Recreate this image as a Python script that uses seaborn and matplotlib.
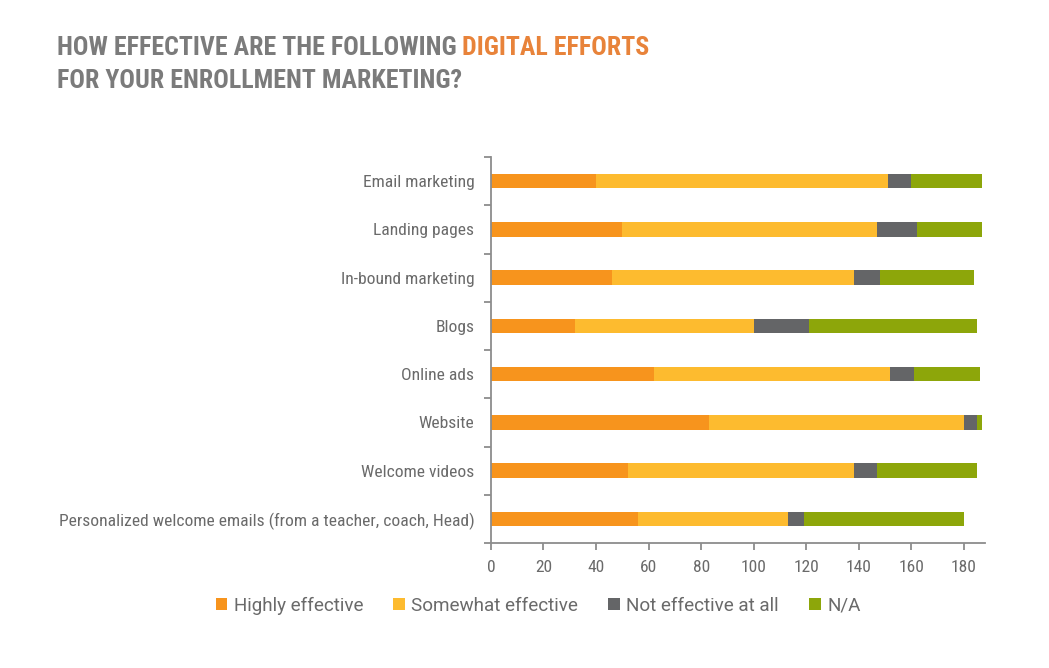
import matplotlib
matplotlib.use("Agg")
import matplotlib.pyplot as plt
import seaborn as sns
import numpy as np
import pandas as pd

categories = [
    "Email marketing",
    "Landing pages",
    "In-bound marketing",
    "Blogs",
    "Online ads",
    "Website",
    "Welcome videos",
    "Personalized welcome emails (from a teacher, coach, Head)",
]
series_names = ["Highly effective", "Somewhat effective", "Not effective at all", "N/A"]
highly = [40, 50, 46, 32, 62, 83, 52, 56]
somewhat = [111, 97, 92, 68, 90, 97, 86, 57]
not_eff = [9, 15, 10, 21, 9, 5, 9, 6]
na = [27, 25, 36, 64, 25, 2, 38, 61]
x_ticks = [0, 20, 40, 60, 80, 100, 120, 140, 160, 180]

colors = ["#F7941D", "#FDBB2F", "#646567", "#8DA60A"]
title_grey = "#7B7B7B"
title_orange = "#E8833A"
text_grey = "#6A6A6A"
axis_grey = "#8C8C8C"

sns.set_theme(style="white")
plt.rcParams["font.family"] = ["Roboto Condensed", "Roboto", "DejaVu Sans"]

fig = plt.figure(figsize=(10.49, 6.68), dpi=100)
ax = fig.add_axes([0.468, 0.187, 0.471, 0.578])

series = [highly, somewhat, not_eff, na]
cum = np.cumsum(np.array(series, dtype=float), axis=0)
df = pd.DataFrame({"category": categories})
for i in range(len(series) - 1, -1, -1):
    df["v"] = cum[i]
    sns.barplot(data=df, x="v", y="category", orient="h", color=colors[i],
                width=0.3, saturation=1, ax=ax, linewidth=0, label=series_names[i])

ax.set_xlim(0, 188)
ax.set_ylim(len(categories) - 0.5, -0.5)
ax.set_xlabel("")
ax.set_ylabel("")
ax.set_xticks(x_ticks)
ax.set_xticklabels([str(t) for t in x_ticks])
ax.set_yticks(range(len(categories)))
ax.set_yticklabels(categories)
ax.set_yticks(np.arange(-0.5, len(categories), 1.0), minor=True)
ax.tick_params(axis="y", which="major", length=0, pad=12, labelsize=12.6, labelcolor=text_grey)
ax.tick_params(axis="y", which="minor", length=5, width=1.3, color=axis_grey, left=True)
ax.tick_params(axis="x", which="major", length=5, width=1.3, color=axis_grey, bottom=True,
               labelsize=12.6, labelcolor=text_grey, pad=7)
for s in ["top", "right"]:
    ax.spines[s].set_visible(False)
for s in ["left", "bottom"]:
    ax.spines[s].set_color(axis_grey)
    ax.spines[s].set_linewidth(1.3)

handles, labels = ax.get_legend_handles_labels()
order = [labels.index(n) for n in series_names]
ax.legend([handles[i] for i in order], [labels[i] for i in order],
          loc="center", bbox_to_anchor=(0.513, 0.093), bbox_transform=fig.transFigure,
          ncol=4, frameon=False, handlelength=0.6, handleheight=0.6, handletextpad=0.35,
          columnspacing=1.6, prop={"family": ["Roboto", "DejaVu Sans"], "size": 13.6},
          labelcolor=text_grey)

tfont = ["Roboto Condensed", "DejaVu Sans"]
tkw = dict(fontsize=18.6, fontweight="bold", family=tfont, fontstretch="condensed")
t1 = fig.text(0.054, 0.918, "HOW EFFECTIVE ARE THE FOLLOWING ", color=title_grey,
              va="baseline", ha="left", **tkw)
ax.annotate("DIGITAL EFFORTS", xy=(1, 0), xycoords=t1, va="bottom", ha="left",
            color=title_orange, **tkw)
fig.text(0.054, 0.868, "FOR YOUR ENROLLMENT MARKETING?", color=title_grey,
         va="baseline", ha="left", **tkw)

fig.savefig("out.png", dpi=100)
